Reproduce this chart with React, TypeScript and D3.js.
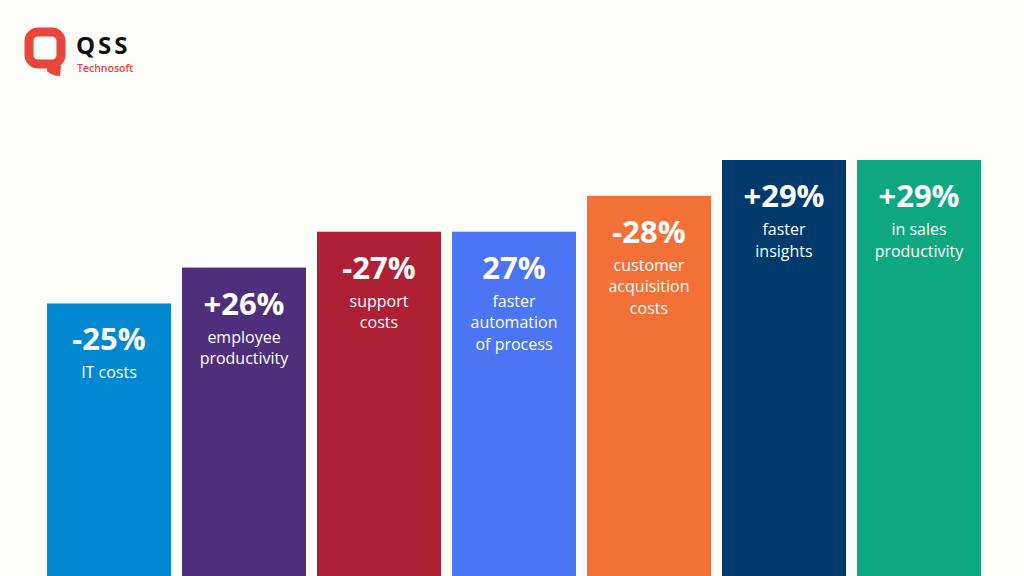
import { useEffect, useRef } from 'react';
import * as d3 from 'd3';

const values = [25, 26, 27, 27, 28, 29, 29];
const signs = ['-', '+', '-', '', '-', '+', '+'];
const labels = [
  ['IT costs'],
  ['employee', 'productivity'],
  ['support', 'costs'],
  ['faster', 'automation', 'of process'],
  ['customer', 'acquisition', 'costs'],
  ['faster', 'insights'],
  ['in sales', 'productivity'],
];
const colors = ['#0088d1', '#4f2e7b', '#b02035', '#4c75f5', '#f37136', '#003a6c', '#0ea880'];

const W = 1024;
const H = 576;
const FONT = '"Open Sans", "Noto Sans", sans-serif';

export default function App() {
  const svgRef = useRef<SVGSVGElement>(null);

  useEffect(() => {
    if (!svgRef.current) return;
    const svg = d3.select(svgRef.current);
    svg.selectAll('*').remove();

    svg.append('rect').attr('width', W).attr('height', H).attr('fill', '#fdfdfa');

    const x = d3.scaleBand<number>()
      .domain(d3.range(values.length))
      .range([47, 981])
      .paddingInner(0.0815)
      .paddingOuter(0);

    const y = d3.scaleLinear().domain([17.4, 29]).range([H, 160]);

    const bars = svg.selectAll('g.bar')
      .data(values)
      .enter()
      .append('g')
      .attr('class', 'bar')
      .attr('transform', (_, i) => `translate(${x(i)},0)`);

    bars.append('rect')
      .attr('y', d => y(d))
      .attr('width', x.bandwidth())
      .attr('height', d => H - y(d))
      .attr('fill', (_, i) => colors[i]);

    bars.append('text')
      .attr('x', x.bandwidth() / 2)
      .attr('y', d => y(d) + 47)
      .attr('text-anchor', 'middle')
      .attr('fill', '#fff')
      .attr('font-family', FONT)
      .attr('font-weight', 700)
      .attr('font-size', 31)
      .text((d, i) => `${signs[i]}${d}%`);

    // description lines under the value
    bars.each(function (d, i) {
      const g = d3.select(this);
      labels[i].forEach((line, j) => {
        g.append('text')
          .attr('x', x.bandwidth() / 2)
          .attr('y', y(d) + 47 + 28 + j * 21.5)
          .attr('text-anchor', 'middle')
          .attr('fill', '#fff')
          .attr('font-family', FONT)
          .attr('font-size', 16)
          .text(line);
      });
    });

    // logo
    const logo = svg.append('g');
    logo.append('rect')
      .attr('x', 29).attr('y', 32)
      .attr('width', 32).attr('height', 32)
      .attr('rx', 9)
      .attr('fill', 'none')
      .attr('stroke', '#e8453c')
      .attr('stroke-width', 9);
    logo.append('path')
      .attr('d', 'M47 66 L61 66 L60 76 Q52 76 47 71 Z')
      .attr('fill', '#e8453c');
    logo.append('text')
      .attr('x', 76).attr('y', 53.5)
      .attr('font-family', FONT)
      .attr('font-weight', 700)
      .attr('font-size', 24)
      .attr('letter-spacing', 3)
      .attr('fill', '#111')
      .text('QSS');
    logo.append('text')
      .attr('x', 77).attr('y', 72)
      .attr('font-family', FONT)
      .attr('font-weight', 600)
      .attr('font-size', 10.5)
      .attr('fill', '#e8453c')
      .text('Technosoft');
  }, []);

  return (
    <svg
      ref={svgRef}
      width={W}
      height={H}
      style={{ position: 'fixed', top: 0, left: 0, display: 'block' }}
    />
  );
}
